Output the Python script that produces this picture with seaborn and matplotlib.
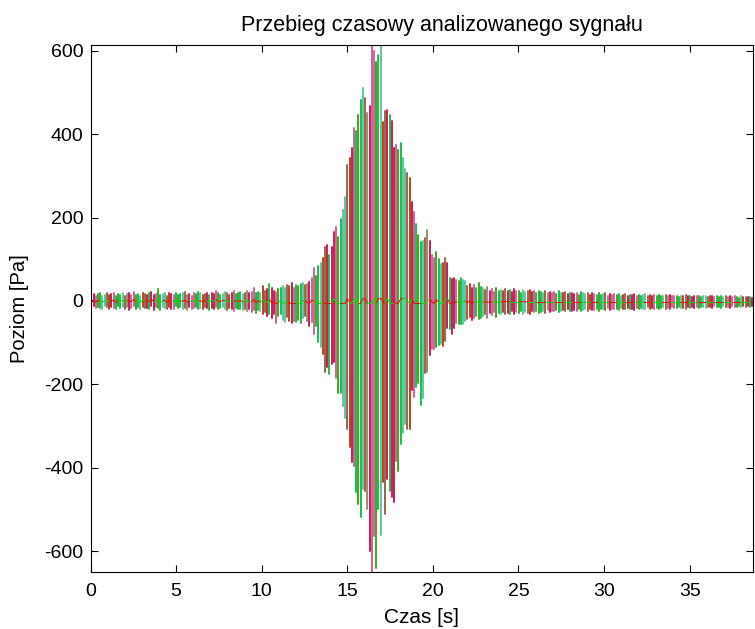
import numpy as np
import pandas as pd
import matplotlib
matplotlib.use("Agg")
import matplotlib.pyplot as plt
import seaborn as sns

# ---------------- data ----------------
# Each vertical stroke of the signal: its top (upper) and bottom (lower) value in Pa.
upper_quiet_start = [
    14, 17, 12, 16, 19, 13, 15, 18, 14, 16,
    20, 13, 17, 15, 19, 12, 16, 18, 14, 21,
    15, 17, 13, 19, 16, 14, 18, 22, 15, 17,
    28, 14, 16, 19, 13, 18, 17, 15, 20, 14,
    16, 18, 21, 15, 17, 13, 19, 16, 22, 18,
    14, 17, 20, 15, 18, 16, 23, 19, 14, 17,
    21, 18, 15, 20, 24, 17, 19, 22, 16, 20,
    25, 18, 21, 30, 19, 22, 20, 35, 24, 28,
]
lower_quiet_start = [
    -15, -12, -17, -14, -16, -19, -13, -15, -18, -14,
    -16, -20, -13, -17, -15, -18, -14, -22, -16, -13,
    -18, -15, -20, -14, -17, -16, -19, -13, -21, -15,
    -17, -22, -14, -16, -19, -15, -18, -20, -13, -17,
    -15, -19, -16, -21, -14, -18, -17, -15, -20, -16,
    -19, -14, -17, -22, -16, -18, -15, -20, -17, -14,
    -18, -21, -16, -19, -23, -17, -20, -18, -22, -19,
    -24, -20, -26, -22, -28, -21, -25, -30, -27, -36,
]
upper_onset = [40, 30, 25, 22, 28, 30, 35, 30, 38, 35, 42, 32, 38, 36]
lower_onset = [-30, -40, -32, -52, -35, -30, -45, -50, -38, -48, -52, -47, -50, -45]

upper_burst = [
    40, 42, 38, 40, 45, 55, 78, 60, 85, 90,
    102, 130, 135, 111, 130, 165, 178, 154, 197, 218,
    249, 325, 344, 367, 415, 408, 446, 481, 510, 486,
    450, 467, 614, 600, 574, 590, 614, 430, 455, 458,
    446, 431, 367, 375, 363, 379, 344, 316, 308, 296,
    237, 213, 185, 159, 142, 145, 150, 170, 145,
]
lower_burst = [
    -52, -40, -36, -47, -59, -50, -78, -60, -99, -110,
    -126, -170, -158, -174, -150, -146, -185, -221, -221, -253,
    -281, -308, -351, -386, -395, -458, -486, -517, -450, -455,
    -498, -600, -650, -564, -640, -498, -562, -434, -510, -427,
    -455, -470, -481, -384, -408, -344, -316, -296, -308, -308,
    -213, -230, -206, -197, -249, -232, -173, -170, -130,
]
upper_decay = [111, 102, 118, 100, 88, 90, 102, 90, 55, 52, 55, 50, 47, 55, 50,
               47, 35, 40, 32, 38, 30, 42, 34]
lower_decay = [-114, -114, -111, -105, -102, -107, -95, -64, -66, -78, -64, -52, -55,
               -55, -55, -47, -43, -38, -45, -40, -36, -44, -40]

upper_quiet_end = [
    30, 26, 34, 24, 28, 22, 31, 25, 27, 23,
    29, 24, 26, 21, 28, 23, 25, 20, 27, 22,
    24, 26, 21, 23, 19, 25, 22, 20, 24, 18,
    22, 19, 21, 17, 23, 20, 18, 21, 16, 19,
    20, 17, 19, 15, 21, 18, 16, 19, 14, 18,
    17, 15, 19, 14, 16, 18, 13, 17, 15, 16,
    14, 17, 13, 15, 16, 12, 15, 14, 17, 13,
    15, 12, 14, 16, 11, 14, 13, 15, 12, 14,
    13, 11, 14, 12, 15, 11, 13, 12, 10, 13,
    12, 14, 11, 12, 10, 13, 11, 12, 10, 11,
    12, 10, 11, 13, 9, 11, 10, 12, 9, 11,
    10, 12, 9, 11, 10, 8, 11, 9, 10, 9,
    10, 8,
]
lower_quiet_end = [
    -36, -30, -40, -28, -33, -26, -38, -29, -32, -27,
    -31, -28, -30, -25, -32, -27, -29, -24, -30, -26,
    -28, -30, -25, -27, -23, -29, -26, -24, -28, -22,
    -26, -23, -25, -21, -27, -24, -22, -25, -20, -23,
    -24, -21, -23, -19, -25, -22, -20, -23, -18, -22,
    -21, -19, -23, -18, -20, -22, -17, -21, -19, -20,
    -18, -21, -17, -19, -20, -16, -19, -18, -21, -17,
    -19, -16, -18, -20, -15, -18, -17, -19, -16, -18,
    -17, -15, -18, -16, -19, -15, -17, -16, -14, -17,
    -16, -18, -15, -16, -14, -17, -15, -16, -14, -15,
    -16, -14, -15, -17, -13, -15, -14, -16, -13, -15,
    -14, -16, -13, -15, -14, -12, -15, -13, -14, -13,
    -14, -12,
]

stroke_step_s = 0.13      # time between strokes
first_stroke_s = 0.05

x_ticks = [0, 5, 10, 15, 20, 25, 30, 35]
y_ticks = [-600, -400, -200, 0, 200, 400, 600]

title_text = "Przebieg czasowy analizowanego sygnału"
x_label = "Czas [s]"
y_label = "Poziom [Pa]"

# ---------------- styling ----------------
tone_palette = {
    "crimson": "#C81E55",
    "rose": "#D2609A",
    "olive": "#3FA81C",
    "green": "#16C04E",
    "teal": "#5CC8A0",
    "brown": "#A0644A",
    "rust": "#B8441E",
    "tan": "#A08A70",
}
tone_cycle = ["crimson", "crimson", "rose", "olive", "green", "teal", "teal",
              "brown", "rust", "crimson", "rose", "green", "olive", "green",
              "teal", "brown", "tan", "crimson", "rose", "rose", "olive",
              "green", "teal", "rust", "brown", "crimson", "green"]

sns.set_style("ticks")
plt.rcParams["font.family"] = ["Liberation Sans", "DejaVu Sans"]
plt.rcParams["axes.unicode_minus"] = False
plt.rcParams["text.color"] = "black"
plt.rcParams["axes.labelcolor"] = "black"

upper = np.array(upper_quiet_start + upper_onset + upper_burst + upper_decay + upper_quiet_end, float)
lower = np.array(lower_quiet_start + lower_onset + lower_burst + lower_decay + lower_quiet_end, float)
n = len(upper)
times = first_stroke_s + stroke_step_s * np.arange(n)
tones = [tone_cycle[i % len(tone_cycle)] for i in range(n)]

strokes = pd.DataFrame({
    "stroke": np.repeat(np.arange(n), 2),
    "t": np.repeat(times, 2),
    "v": np.column_stack([lower, upper]).ravel(),
    "tone": np.repeat(tones, 2),
})

# thin running centre line (mean of each stroke, kept near the axis), red/green pieces
mid = np.clip((upper + lower) / 2.0, -6, 6)
rows = []
chunk = 4
for c, start in enumerate(range(0, n - 1, chunk)):
    for i in range(start, min(start + chunk + 1, n)):
        rows.append((c, times[i], mid[i], "red" if c % 2 == 0 else "lime"))
centre = pd.DataFrame(rows, columns=["piece", "t", "v", "col"])

fig = plt.figure(figsize=(7.55, 6.29), dpi=100)
ax = fig.add_axes([90.5 / 755, 1 - 572 / 629, (753 - 90.5) / 755, (572 - 45) / 629])

sns.lineplot(data=strokes, x="t", y="v", hue="tone", units="stroke", estimator=None,
             palette=tone_palette, legend=False, linewidth=1.4, sort=False, ax=ax)
sns.lineplot(data=centre, x="t", y="v", hue="col", units="piece", estimator=None,
             palette={"red": "#FF0000", "lime": "#00E000"}, legend=False,
             linewidth=0.7, sort=False, ax=ax)

ax.set_xlim(0, 38.7)
ax.set_ylim(-650, 614)
ax.set_xticks(x_ticks)
ax.set_yticks(y_ticks)
ax.set_xticklabels([str(v) for v in x_ticks])
ax.set_yticklabels([str(v) for v in y_ticks])
ax.tick_params(axis="both", direction="in", top=True, right=True, length=5, width=0.8,
               labelsize=14, colors="black")
ax.tick_params(axis="x", pad=8)
ax.tick_params(axis="y", pad=5)
for s in ax.spines.values():
    s.set_visible(True)
    s.set_color("black")
    s.set_linewidth(0.8)

ax.set_title(title_text, fontsize=15.5, x=0.53, pad=10, color="black")
ax.set_xlabel(x_label, fontsize=15, labelpad=6)
ax.set_ylabel(y_label, fontsize=14.5, labelpad=11)

fig.savefig("out.png", dpi=100)
